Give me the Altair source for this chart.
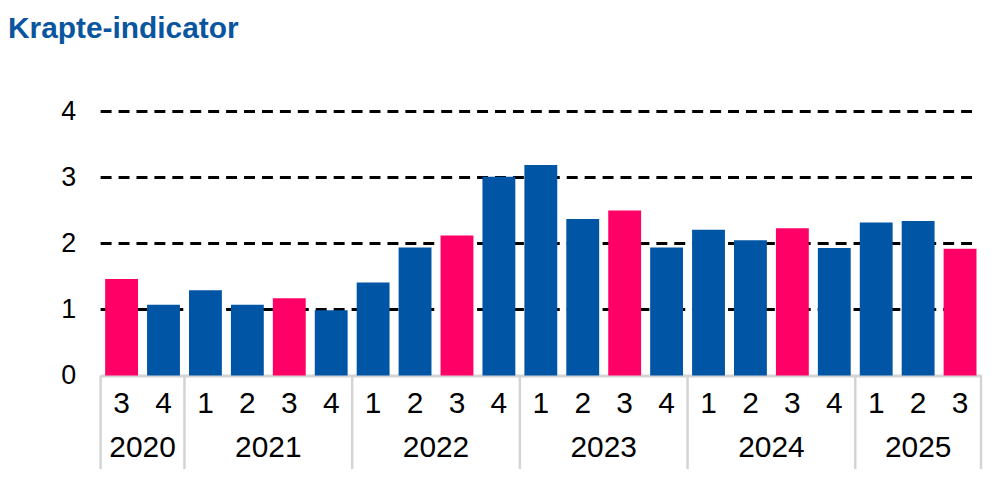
import altair as alt
import pandas as pd

# ---- data ----
years = [2020, 2020, 2021, 2021, 2021, 2021, 2022, 2022, 2022, 2022,
         2023, 2023, 2023, 2023, 2024, 2024, 2024, 2024, 2025, 2025, 2025]
quarters = [3, 4, 1, 2, 3, 4, 1, 2, 3, 4, 1, 2, 3, 4, 1, 2, 3, 4, 1, 2, 3]
values = [1.46, 1.07, 1.29, 1.07, 1.17, 0.99, 1.41, 1.94, 2.12, 3.01,
          3.19, 2.37, 2.50, 1.94, 2.21, 2.05, 2.23, 1.93, 2.32, 2.34, 1.92]
grid_levels = [1, 2, 3, 4]
y_ticks = [0, 1, 2, 3, 4]

BLUE = "#0055A5"
PINK = "#FF0066"
W, H = 884, 265
FONT = "Liberation Sans"

df = pd.DataFrame({"year": years, "quarter": quarters, "value": values})
df["idx"] = list(range(len(df)))
df["kind"] = ["Q3" if q == 3 else "other" for q in quarters]

bounds = []
for yr in sorted(set(years)):
    bounds.append(df.loc[df.year == yr, "idx"].min() - 0.5)
bounds.append(len(df) - 0.5)
sep_df = pd.DataFrame({"b": bounds})
grid_df = pd.DataFrame({"g": grid_levels})

xs = alt.Scale(domain=[-0.5, len(df) - 0.5], nice=False, zero=False, padding=0)
ys = alt.Scale(domain=[0, 4], nice=False)

yaxis = alt.Axis(values=y_ticks, format="d", grid=False, domain=False,
                 ticks=False, labelFontSize=27, labelPadding=25,
                 labelColor="black", labelFont=FONT, title=None)

grid = alt.Chart(grid_df).mark_rule(
    strokeDash=[11, 7], strokeWidth=3, color="black"
).encode(
    y=alt.Y("g:Q", scale=ys, axis=yaxis),
    x=alt.value(0),
    x2=alt.value(W - 2),
)

bars = alt.Chart(df).mark_bar(size=33).encode(
    x=alt.X("idx:Q", scale=xs,
            axis=alt.Axis(labels=False, ticks=False, grid=False, title=None,
                          domainColor="#d4d4d4", domainWidth=3)),
    y=alt.Y("value:Q", scale=ys, axis=yaxis),
    color=alt.Color("kind:N", scale=alt.Scale(domain=["Q3", "other"],
                                              range=[PINK, BLUE]),
                    legend=None),
)

seps = alt.Chart(sep_df).mark_rule(color="#d4d4d4", strokeWidth=2.5).encode(
    x=alt.X("b:Q", scale=xs),
    y=alt.value(H),
    y2=alt.value(H + 94),
)

qlabels = alt.Chart(df).mark_text(
    fontSize=30, font=FONT, color="black", baseline="middle"
).encode(
    x=alt.X("idx:Q", scale=xs),
    y=alt.value(H + 29),
    text="quarter:N",
)

ylabels = alt.Chart(df).transform_aggregate(
    center="mean(idx)", groupby=["year"]
).mark_text(
    fontSize=30, font=FONT, color="black", baseline="middle"
).encode(
    x=alt.X("center:Q", scale=xs),
    y=alt.value(H + 73),
    text="year:N",
)

chart = alt.layer(grid, bars, seps, qlabels, ylabels).properties(
    width=W,
    height=H,
    autosize=alt.AutoSizeParams(type="none"),
    padding={"left": 93, "top": 103, "right": 5, "bottom": 100},
    title=alt.TitleParams(
        "Krapte-indicator", anchor="start", frame="group", fontSize=30,
        font=FONT, fontWeight="bold", color="#0A55A0", dx=-93, offset=54,
    ),
).configure_view(stroke=None)

chart.save("out.html", embed_options={"renderer": "svg", "actions": False})
